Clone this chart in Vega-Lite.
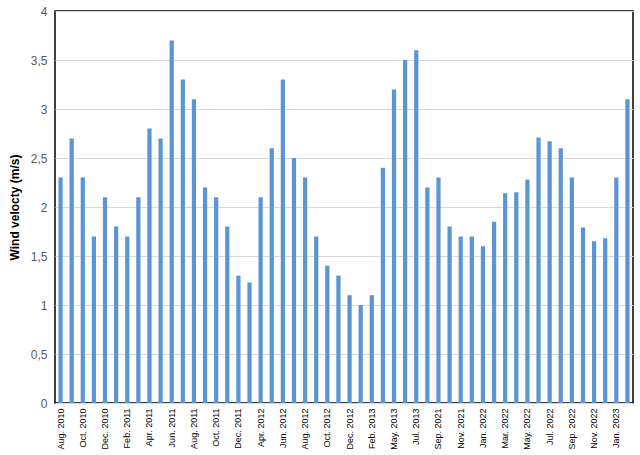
{
  "$schema": "https://vega.github.io/schema/vega-lite/v6.json",
  "autosize": {"type": "none"},
  "padding": {"left": 55, "top": 11, "right": 7, "bottom": 52},
  "width": 578,
  "height": 392,
  "background": "white",
  "data": {
    "values": [
      {"month": "Aug. 2010", "wind": 2.3},
      {"month": "Sep. 2010", "wind": 2.7},
      {"month": "Oct. 2010", "wind": 2.3},
      {"month": "Nov. 2010", "wind": 1.7},
      {"month": "Dec. 2010", "wind": 2.1},
      {"month": "Jan. 2011", "wind": 1.8},
      {"month": "Feb. 2011", "wind": 1.7},
      {"month": "Mar. 2011", "wind": 2.1},
      {"month": "Apr. 2011", "wind": 2.8},
      {"month": "May. 2011", "wind": 2.7},
      {"month": "Jun. 2011", "wind": 3.7},
      {"month": "Jul. 2011", "wind": 3.3},
      {"month": "Aug. 2011", "wind": 3.1},
      {"month": "Sep. 2011", "wind": 2.2},
      {"month": "Oct. 2011", "wind": 2.1},
      {"month": "Nov. 2011", "wind": 1.8},
      {"month": "Dec. 2011", "wind": 1.3},
      {"month": "Feb. 2012", "wind": 1.23},
      {"month": "Apr. 2012", "wind": 2.1},
      {"month": "May. 2012", "wind": 2.6},
      {"month": "Jun. 2012", "wind": 3.3},
      {"month": "Jul. 2012", "wind": 2.5},
      {"month": "Aug. 2012", "wind": 2.3},
      {"month": "Sep. 2012", "wind": 1.7},
      {"month": "Oct. 2012", "wind": 1.4},
      {"month": "Nov. 2012", "wind": 1.3},
      {"month": "Dec. 2012", "wind": 1.1},
      {"month": "Jan. 2013", "wind": 1.0},
      {"month": "Feb. 2013", "wind": 1.1},
      {"month": "Apr. 2013", "wind": 2.4},
      {"month": "May. 2013", "wind": 3.2},
      {"month": "Jun. 2013", "wind": 3.5},
      {"month": "Jul. 2013", "wind": 3.6},
      {"month": "Aug. 2021", "wind": 2.2},
      {"month": "Sep. 2021", "wind": 2.3},
      {"month": "Oct. 2021", "wind": 1.8},
      {"month": "Nov. 2021", "wind": 1.7},
      {"month": "Dec. 2021", "wind": 1.7},
      {"month": "Jan. 2022", "wind": 1.6},
      {"month": "Feb. 2022", "wind": 1.85},
      {"month": "Mar. 2022", "wind": 2.14},
      {"month": "Apr. 2022", "wind": 2.15},
      {"month": "May. 2022", "wind": 2.28},
      {"month": "Jun. 2022", "wind": 2.71},
      {"month": "Jul. 2022", "wind": 2.67},
      {"month": "Aug. 2022", "wind": 2.6},
      {"month": "Sep. 2022", "wind": 2.3},
      {"month": "Oct. 2022", "wind": 1.79},
      {"month": "Nov. 2022", "wind": 1.65},
      {"month": "Dec. 2022", "wind": 1.68},
      {"month": "Jan. 2023", "wind": 2.3},
      {"month": "Feb. 2023", "wind": 3.1}
    ]
  },
  "mark": {"type": "bar", "width": {"band": 0.38}, "color": "#5b95d3"},
  "encoding": {
    "x": {
      "field": "month",
      "type": "nominal",
      "sort": null,
      "title": null,
      "scale": {"paddingInner": 0, "paddingOuter": 0},
      "axis": {
        "values": ["Aug. 2010", "Oct. 2010", "Dec. 2010", "Feb. 2011", "Apr. 2011", "Jun. 2011", "Aug. 2011", "Oct. 2011", "Dec. 2011", "Apr. 2012", "Jun. 2012", "Aug. 2012", "Oct. 2012", "Dec. 2012", "Feb. 2013", "May. 2013", "Jul. 2013", "Sep. 2021", "Nov. 2021", "Jan. 2022", "Mar. 2022", "May. 2022", "Jul. 2022", "Sep. 2022", "Nov. 2022", "Jan. 2023"],
        "labelAngle": -90,
        "labelFontSize": 9,
        "labelColor": "black",
        "labelFont": "Liberation Sans",
        "labelPadding": 5,
        "ticks": false,
        "domain": false,
        "grid": false
      }
    },
    "y": {
      "field": "wind",
      "type": "quantitative",
      "title": "Wind velocty (m/s)",
      "scale": {"domain": [0, 4], "nice": false},
      "axis": {
        "values": [0, 0.5, 1, 1.5, 2, 2.5, 3, 3.5, 4],
        "labelExpr": "replace(toString(datum.value), '.', ',')",
        "labelFontSize": 12,
        "labelColor": "#595959",
        "labelFont": "Liberation Sans",
        "labelPadding": 8,
        "ticks": false,
        "domain": false,
        "gridColor": "#d9d9d9",
        "titleFont": "Liberation Sans",
        "titleFontSize": 12,
        "titleFontWeight": "bold",
        "titleColor": "black",
        "titlePadding": 9
      }
    }
  },
  "config": {
    "view": {"stroke": "black", "strokeWidth": 1.5}
  }
}
